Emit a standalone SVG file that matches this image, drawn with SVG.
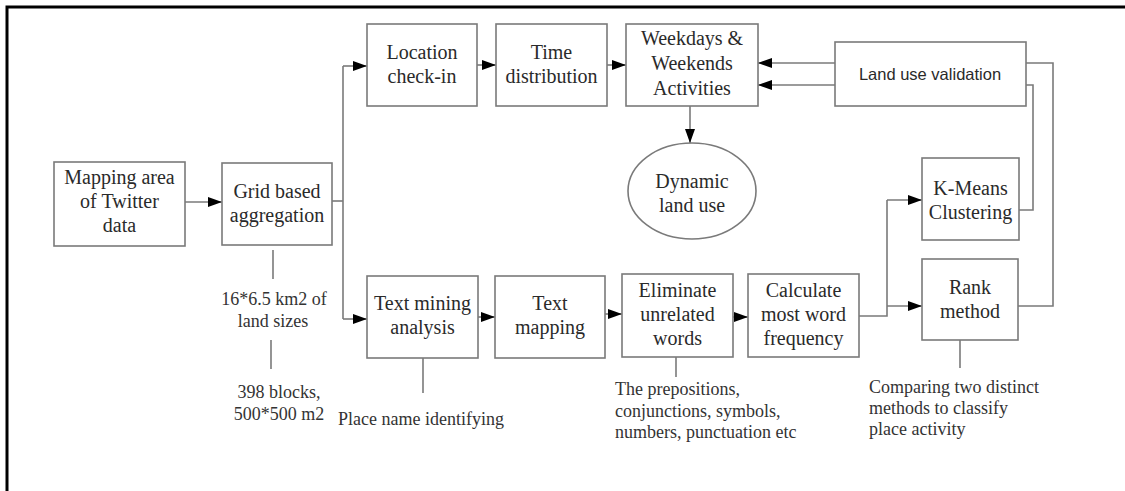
<svg xmlns="http://www.w3.org/2000/svg" width="1125" height="491" viewBox="0 0 1125 491">
  <defs>
    <marker id="arrow" markerUnits="userSpaceOnUse" markerWidth="15" markerHeight="11" refX="14" refY="5" orient="auto">
      <path d="M0,0 L14,5 L0,10 z" fill="#000"/>
    </marker>
    <style>
      .box { fill: #fff; stroke: #7a7a7a; stroke-width: 1.6; }
      .lbl { font-family: "Liberation Serif", "Times New Roman", serif; font-size: 20px; fill: #2a2a2a; text-anchor: middle; }
      .sans { font-family: "Liberation Sans", Arial, sans-serif; font-size: 16.5px; fill: #2a2a2a; text-anchor: middle; }
      .note { font-family: "Liberation Serif", "Times New Roman", serif; font-size: 18px; fill: #333; }
      .mid { text-anchor: middle; }
      .wire { fill: none; stroke: #7a7a7a; stroke-width: 1.6; }
      .arr { marker-end: url(#arrow); }
    </style>
  </defs>

  <rect x="0" y="0" width="1125" height="491" fill="#fff"/>
  <!-- frame -->
  <path d="M7,491 V7 H1125" fill="none" stroke="#000" stroke-width="3"/>

  <!-- connectors -->
  <g id="connectors">
    <line class="wire arr" x1="185" y1="202" x2="222" y2="202"/>
    <line class="wire" x1="332" y1="201" x2="343" y2="201"/>
    <line class="wire" x1="343" y1="66" x2="343" y2="319"/>
    <line class="wire arr" x1="343" y1="66" x2="367" y2="66"/>
    <line class="wire arr" x1="343" y1="319" x2="367" y2="319"/>
    <line class="wire arr" x1="477" y1="65" x2="496" y2="65"/>
    <line class="wire arr" x1="607" y1="65" x2="626" y2="65"/>
    <line class="wire arr" x1="690" y1="106" x2="690" y2="143"/>
    <line class="wire arr" x1="835" y1="63" x2="758" y2="63"/>
    <line class="wire arr" x1="835" y1="85" x2="758" y2="85"/>
    <polyline class="wire" points="1026,63 1053,63 1053,306 1018,306"/>
    <polyline class="wire" points="1026,85 1033,85 1033,210 1019,210"/>
    <line class="wire arr" x1="478" y1="317" x2="495" y2="317"/>
    <line class="wire arr" x1="605" y1="314" x2="622" y2="314"/>
    <line class="wire arr" x1="733" y1="317" x2="748" y2="317"/>
    <polyline class="wire" points="859,316 887,316 887,200"/>
    <line class="wire arr" x1="887" y1="200" x2="922" y2="200"/>
    <line class="wire arr" x1="887" y1="306" x2="922" y2="306"/>
    <!-- annotation leaders -->
    <line class="wire" x1="273" y1="250" x2="273" y2="279"/>
    <line class="wire" x1="271" y1="340" x2="271" y2="369"/>
    <line class="wire" x1="423" y1="358" x2="423" y2="393"/>
    <line class="wire" x1="676" y1="357" x2="676" y2="377"/>
    <line class="wire" x1="960" y1="340" x2="960" y2="368"/>
  </g>

  <g id="mapping-area">
    <rect class="box" x="54" y="162" width="131" height="84"/>
    <text class="lbl" x="119.5" y="184">Mapping area</text>
    <text class="lbl" x="119.5" y="208">of Twitter</text>
    <text class="lbl" x="119.5" y="232">data</text>
  </g>

  <g id="grid-aggregation">
    <rect class="box" x="222" y="163" width="110" height="82"/>
    <text class="lbl" x="277" y="198">Grid based</text>
    <text class="lbl" x="277" y="222">aggregation</text>
  </g>

  <g id="location-checkin">
    <rect class="box" x="367" y="24" width="110" height="82"/>
    <text class="lbl" x="422" y="59">Location</text>
    <text class="lbl" x="422" y="83">check-in</text>
  </g>

  <g id="time-distribution">
    <rect class="box" x="496" y="24" width="111" height="82"/>
    <text class="lbl" x="551.5" y="59">Time</text>
    <text class="lbl" x="551.5" y="83">distribution</text>
  </g>

  <g id="weekdays-weekends">
    <rect class="box" x="626" y="24" width="132" height="82"/>
    <text class="lbl" x="692" y="45">Weekdays &amp;</text>
    <text class="lbl" x="692" y="70">Weekends</text>
    <text class="lbl" x="692" y="95">Activities</text>
  </g>

  <g id="dynamic-land-use">
    <ellipse class="box" cx="692" cy="191" rx="64" ry="48"/>
    <text class="lbl" x="692" y="188">Dynamic</text>
    <text class="lbl" x="692" y="212">land use</text>
  </g>

  <g id="land-use-validation">
    <rect class="box" x="835" y="42" width="191" height="64"/>
    <text class="sans" x="930" y="80">Land use validation</text>
  </g>

  <g id="kmeans">
    <rect class="box" x="922" y="158" width="97" height="82"/>
    <text class="lbl" x="970.5" y="195">K-Means</text>
    <text class="lbl" x="970.5" y="219">Clustering</text>
  </g>

  <g id="rank-method">
    <rect class="box" x="922" y="259" width="96" height="81"/>
    <text class="lbl" x="970" y="294">Rank</text>
    <text class="lbl" x="970" y="318">method</text>
  </g>

  <g id="text-mining">
    <rect class="box" x="367" y="276" width="111" height="82"/>
    <text class="lbl" x="422.5" y="310">Text mining</text>
    <text class="lbl" x="422.5" y="334">analysis</text>
  </g>

  <g id="text-mapping">
    <rect class="box" x="495" y="276" width="110" height="82"/>
    <text class="lbl" x="550" y="310">Text</text>
    <text class="lbl" x="550" y="334">mapping</text>
  </g>

  <g id="eliminate-words">
    <rect class="box" x="622" y="274" width="111" height="83"/>
    <text class="lbl" x="677.5" y="297">Eliminate</text>
    <text class="lbl" x="677.5" y="321">unrelated</text>
    <text class="lbl" x="677.5" y="345">words</text>
  </g>

  <g id="word-frequency">
    <rect class="box" x="748" y="274" width="111" height="83"/>
    <text class="lbl" x="803.5" y="297">Calculate</text>
    <text class="lbl" x="803.5" y="321">most word</text>
    <text class="lbl" x="803.5" y="345">frequency</text>
  </g>

  <!-- annotations -->
  <g id="notes">
    <text class="note mid" x="274" y="305">16*6.5 km2 of</text>
    <text class="note mid" x="273" y="327">land sizes</text>
    <text class="note mid" x="279" y="398">398 blocks,</text>
    <text class="note mid" x="279" y="420">500*500 m2</text>
    <text class="note" x="338" y="425">Place name identifying</text>
    <text class="note" x="615" y="395">The prepositions,</text>
    <text class="note" x="615" y="417">conjunctions, symbols,</text>
    <text class="note" x="615" y="438">numbers, punctuation etc</text>
    <text class="note" x="869" y="393">Comparing two distinct</text>
    <text class="note" x="869" y="414">methods to classify</text>
    <text class="note" x="869" y="435">place activity</text>
  </g>
</svg>
